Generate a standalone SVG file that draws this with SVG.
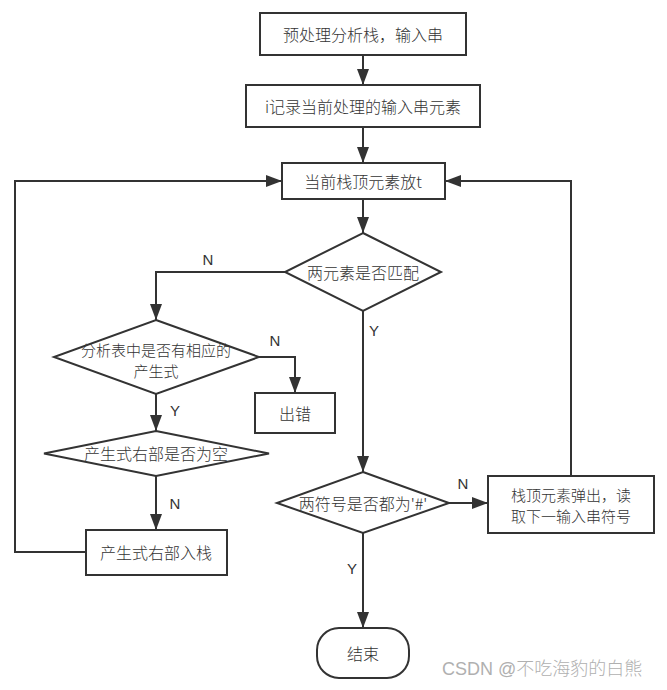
<svg xmlns="http://www.w3.org/2000/svg" width="667" height="690" viewBox="0 0 667 690">
<defs>
<style>
.n{fill:#fff;stroke:#333;stroke-width:2}
.t{font-family:"Noto Sans CJK SC","Liberation Sans",sans-serif;font-size:16px;font-weight:300;fill:#333;text-anchor:middle;dominant-baseline:central}
.s{font-size:15px}
.l{font-family:"Liberation Sans",Arial,sans-serif;font-size:15px;fill:#333;text-anchor:middle;dominant-baseline:central}
.c{fill:none;stroke:#333;stroke-width:2;marker-end:url(#a)}
.w{font-family:"Liberation Sans","Noto Sans CJK SC",sans-serif;font-size:18px;font-weight:300;fill:#b0b0b0;text-anchor:start;dominant-baseline:central}
</style>
<marker id="a" markerUnits="userSpaceOnUse" markerWidth="16" markerHeight="12" refX="16" refY="6" orient="auto">
<path d="M0,0 L16,6 L0,12 z" fill="#333"/>
</marker>
</defs>
<rect width="667" height="690" fill="#fff"/>
<g id="connectors">
<path class="c" d="M363,55 V85"/>
<path class="c" d="M363,127 V163"/>
<path class="c" d="M363,199 V233"/>
<path class="c" d="M285,272 H156 V320"/>
<path class="c" d="M259,357 H295 V393"/>
<path class="c" d="M156,394 V431"/>
<path class="c" d="M156,476 V530"/>
<path class="c" d="M86,552 H15 V181 H282"/>
<path class="c" d="M363,311 V472"/>
<path class="c" d="M449,503 H488"/>
<path class="c" d="M571,476 V181 H445"/>
<path class="c" d="M363,533 V628"/>
</g>
<g id="labels">
<text class="l" x="208" y="259">N</text>
<text class="l" x="374" y="330">Y</text>
<text class="l" x="275" y="340">N</text>
<text class="l" x="175" y="410">Y</text>
<text class="l" x="175" y="503">N</text>
<text class="l" x="463" y="483">N</text>
<text class="l" x="352" y="568">Y</text>
</g>
<g id="n1"><rect class="n" x="260" y="13" width="206" height="42"/><text class="t" x="363" y="34">预处理分析栈，输入串</text></g>
<g id="n2"><rect class="n" x="246" y="85" width="234" height="42"/><text class="t" x="363" y="106">i记录当前处理的输入串元素</text></g>
<g id="n3"><rect class="n" x="282" y="163" width="163" height="36"/><text class="t" x="363" y="181">当前栈顶元素放t</text></g>
<g id="n4"><polygon class="n" points="363,233 441,272 363,311 285,272"/><text class="t" x="363" y="272">两元素是否匹配</text></g>
<g id="n5"><polygon class="n" points="156,320 259,357 156,394 54,357"/><text class="t s" x="156" y="349">分析表中是否有相应的</text><text class="t s" x="156" y="370">产生式</text></g>
<g id="n6"><rect class="n" x="255" y="393" width="80" height="40"/><text class="t" x="295" y="413">出错</text></g>
<g id="n7"><polygon class="n" points="156,431 269,453.5 156,476 44,453.5"/><text class="t" x="156" y="453">产生式右部是否为空</text></g>
<g id="n8"><rect class="n" x="86" y="530" width="141" height="45"/><text class="t" x="156" y="552">产生式右部入栈</text></g>
<g id="n9"><polygon class="n" points="363,472 449,503 363,533 277,503"/><text class="t" x="363" y="503">两符号是否都为'#'</text></g>
<g id="n10"><rect class="n" x="488" y="476" width="166" height="57"/><text class="t s" x="571" y="494">栈顶元素弹出，读</text><text class="t s" x="571" y="515">取下一输入串符号</text></g>
<g id="n11"><rect class="n" x="317" y="628" width="92" height="50" rx="22" ry="22"/><text class="t" x="363" y="653">结束</text></g>
<text class="w" x="442" y="669">CSDN @不吃海豹的白熊</text>
</svg>
